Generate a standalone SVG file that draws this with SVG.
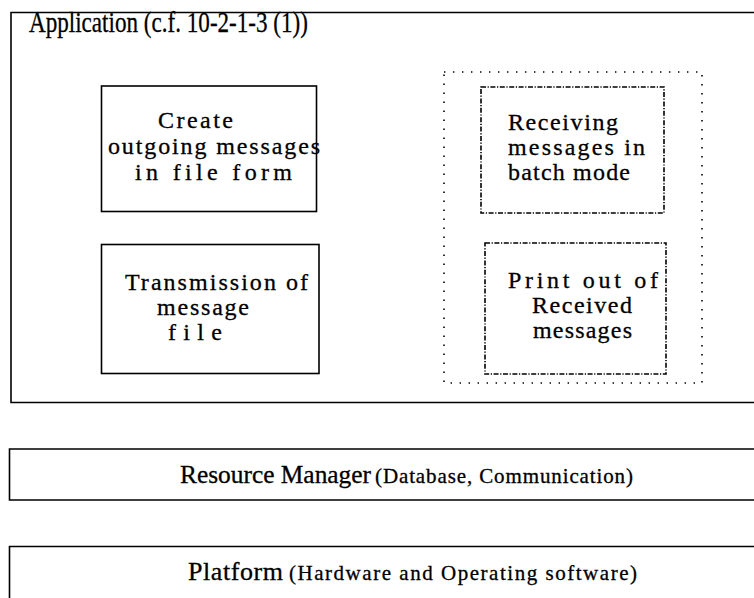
<svg xmlns="http://www.w3.org/2000/svg" width="754" height="598" viewBox="0 0 754 598">
  <style>
    .box { fill: none; stroke: #000; stroke-width: 1.6; }
    .group { fill: none; stroke: #000; stroke-width: 1.6; stroke-dasharray: 1.4 7.6; }
    .dashdot { fill: none; stroke: #000; stroke-width: 1.6; stroke-dasharray: 5 1.6 1.2 1.6; }
    text { font-family: "Liberation Serif", "Times New Roman", serif; fill: #000; stroke: #000; stroke-width: 0.3; }
    .title { font-size: 30px; }
    .label { font-size: 24px; }
    .big { font-size: 26px; }
    .small { font-size: 21px; }
  </style>

  <rect width="754" height="598" fill="#fff"/>

  <!-- Application layer -->
  <g id="application">
    <path class="box" d="M 760 12.5 H 11 V 402.5 H 760"/>
    <text class="title" x="29" y="32" textLength="279" lengthAdjust="spacingAndGlyphs">Application (c.f. 10-2-1-3 (1))</text>
  </g>

  <g id="create-outgoing">
    <rect class="box" x="101.5" y="86" width="215" height="125.5"/>
    <text class="label" x="158" y="128" textLength="75" lengthAdjust="spacing">Create</text>
    <text class="label" x="108" y="154" textLength="212" lengthAdjust="spacing">outgoing messages</text>
    <text class="label" x="135" y="180" textLength="157" lengthAdjust="spacing">in file form</text>
  </g>

  <g id="transmission">
    <rect class="box" x="101.5" y="244.5" width="217.5" height="129"/>
    <text class="label" x="125" y="290" textLength="183" lengthAdjust="spacing">Transmission of</text>
    <text class="label" x="157" y="315" textLength="92" lengthAdjust="spacing">message</text>
    <text class="label" x="168" y="340" textLength="54" lengthAdjust="spacing">file</text>
  </g>

  <!-- receiving side grouping -->
  <g id="receive-group">
    <rect class="group" x="444" y="72" width="258" height="311"/>
  </g>

  <g id="receiving-batch">
    <rect class="dashdot" x="481" y="87" width="183" height="126"/>
    <text class="label" x="508" y="130" textLength="110" lengthAdjust="spacing">Receiving</text>
    <text class="label" x="508" y="155" textLength="137" lengthAdjust="spacing">messages in</text>
    <text class="label" x="508" y="180" textLength="122" lengthAdjust="spacing">batch mode</text>
  </g>

  <g id="print-received">
    <rect class="dashdot" x="485" y="243" width="181" height="131"/>
    <text class="label" x="508" y="288" textLength="150" lengthAdjust="spacing">Print out of</text>
    <text class="label" x="532" y="313" textLength="100" lengthAdjust="spacing">Received</text>
    <text class="label" x="533" y="338" textLength="99" lengthAdjust="spacing">messages</text>
  </g>

  <!-- Resource manager layer -->
  <g id="resource-manager">
    <path class="box" d="M 760 449 H 9.5 V 500 H 760"/>
    <text class="big" x="180" y="483" textLength="191" lengthAdjust="spacingAndGlyphs">Resource Manager</text>
    <text class="small" x="375" y="483" textLength="258" lengthAdjust="spacing">(Database, Communication)</text>
  </g>

  <!-- Platform layer -->
  <g id="platform">
    <path class="box" d="M 760 546.5 H 9.5 V 610"/>
    <text class="big" x="188" y="580" textLength="95" lengthAdjust="spacing">Platform</text>
    <text class="small" x="289" y="580" textLength="348" lengthAdjust="spacing">(Hardware and Operating software)</text>
  </g>
</svg>
